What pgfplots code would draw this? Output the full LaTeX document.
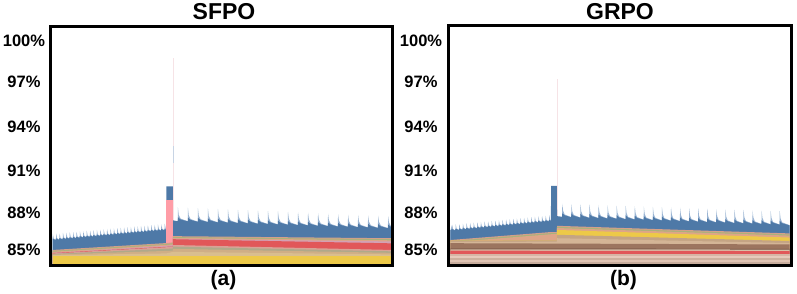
\documentclass[border=0pt]{standalone}
\usepackage{fontspec}
\setmainfont{Liberation Sans}
\usepackage{pgfplots}
\pgfplotsset{compat=1.18}
\definecolor{tblue}{HTML}{4E79A7}
\definecolor{ttip}{HTML}{9AB4D3}
\definecolor{tpink}{HTML}{FF9DA7}
\definecolor{tred}{HTML}{E15759}
\definecolor{tyel}{HTML}{EDC948}
\definecolor{tbrown}{HTML}{9C755F}
\definecolor{dbrown}{HTML}{6F5040}
\definecolor{sA}{HTML}{D4A08A}
\definecolor{sB}{HTML}{A9B27A}
\definecolor{sC}{HTML}{DDA588}
\definecolor{sD}{HTML}{D3A1B4}
\definecolor{tA}{HTML}{D8A296}
\definecolor{tB}{HTML}{AFA98A}
\definecolor{tC}{HTML}{CFAE86}
\definecolor{tD}{HTML}{D9BE8F}
\definecolor{gA}{HTML}{C4A484}
\definecolor{gB}{HTML}{D4B596}
\definecolor{gC}{HTML}{D9BFA7}
\definecolor{bA}{HTML}{D7B5A5}
\definecolor{bB}{HTML}{E6CABB}
\definecolor{bC}{HTML}{CDB09E}
\definecolor{bD}{HTML}{E0C4B4}
\definecolor{bE}{HTML}{C7AC9C}
\definecolor{faintp}{HTML}{F6E3E6}
\definecolor{faintb}{HTML}{C8D4E4}
\pgfplotsset{
  panel/.style={anchor=south west, scale only axis,
    xmin=-0.5, xmax=100, ymin=83.91, ymax=101.18,
    axis on top, axis line style={line width=3pt},
    xtick=\empty, ytick style={draw=none},
    ytick={85,87.68,90.72,93.93,97.2,100.15},
    yticklabels={85\%,88\%,91\%,94\%,97\%,100\%},
    yticklabel style={anchor=center, xshift=-27pt, font=\fontsize{16.5}{18}\selectfont\bfseries}},
  lay/.style={fill=#1, draw=none}
}
\begin{document}
\begin{tikzpicture}
\useasboundingbox (0,0) rectangle (797pt,293pt);
% ---------------- SFPO ----------------
\begin{axis}[panel, at={(51pt,28pt)}, width=341pt, height=238.3pt]
\addplot[lay=faintp] coordinates {(35.4,83) (35.4,98.9) (35.6,98.9) (35.6,83)};
\addplot[lay=faintb] coordinates {(35.4,91.3) (35.4,92.5) (35.6,92.5) (35.6,91.3)};
% tips
\addplot[lay=ttip] coordinates {(0,83) (0,85.72)
(0.03,86.17) (0.30,85.84) (0.95,85.72) (1.03,86.19) (1.30,85.86) (1.95,85.74)
(2.03,86.21) (2.30,85.88) (2.95,85.76) (3.03,86.24) (3.30,85.91) (3.95,85.79)
(4.03,86.26) (4.30,85.93) (4.95,85.81) (5.03,86.28) (5.30,85.95) (5.95,85.83)
(6.03,86.30) (6.30,85.97) (6.95,85.85) (7.03,86.32) (7.30,85.99) (7.95,85.87)
(8.03,86.35) (8.30,86.02) (8.95,85.90) (9.03,86.37) (9.30,86.04) (9.95,85.92)
(10.03,86.39) (10.30,86.06) (10.95,85.94) (11.03,86.41) (11.30,86.08) (11.95,85.96)
(12.03,86.43) (12.30,86.10) (12.95,85.98) (13.03,86.46) (13.30,86.13) (13.95,86.01)
(14.03,86.48) (14.30,86.15) (14.95,86.03) (15.03,86.50) (15.30,86.17) (15.95,86.05)
(16.03,86.52) (16.30,86.19) (16.95,86.07) (17.03,86.54) (17.30,86.21) (17.95,86.09)
(18.03,86.57) (18.30,86.24) (18.95,86.12) (19.03,86.59) (19.30,86.26) (19.95,86.14)
(20.03,86.61) (20.30,86.28) (20.95,86.16) (21.03,86.63) (21.30,86.30) (21.95,86.18)
(22.03,86.65) (22.30,86.32) (22.95,86.20) (23.03,86.68) (23.30,86.35) (23.95,86.23)
(24.03,86.70) (24.30,86.37) (24.95,86.25) (25.03,86.72) (25.30,86.39) (25.95,86.27)
(26.03,86.74) (26.30,86.41) (26.95,86.29) (27.03,86.76) (27.30,86.43) (27.95,86.31)
(28.03,86.79) (28.30,86.46) (28.95,86.34) (29.03,86.81) (29.30,86.48) (29.95,86.36)
(30.03,86.83) (30.30,86.50) (30.95,86.38) (31.03,86.85) (31.30,86.52) (31.95,86.40)
(32.03,86.87) (32.30,86.54) (32.95,86.42) (33.03,86.90) (33.30,86.57) (33.50,86.45)
(35.40,87.09)
(36.85,87.09) (36.90,88.10) (37.15,87.54) (37.70,87.27) (39.75,87.09)
(39.80,87.06) (39.85,88.07) (40.10,87.51) (40.65,87.24) (42.70,87.06)
(42.75,87.04) (42.80,88.04) (43.05,87.49) (43.60,87.22) (45.65,87.04)
(45.70,87.01) (45.75,88.01) (46.00,87.46) (46.55,87.19) (48.60,87.01)
(48.65,86.99) (48.70,87.98) (48.95,87.44) (49.50,87.17) (51.55,86.99)
(51.60,86.96) (51.65,87.95) (51.90,87.41) (52.45,87.14) (54.50,86.96)
(54.55,86.94) (54.60,87.91) (54.85,87.39) (55.40,87.12) (57.45,86.94)
(57.50,86.91) (57.55,87.88) (57.80,87.36) (58.35,87.09) (60.40,86.91)
(60.45,86.89) (60.50,87.85) (60.75,87.34) (61.30,87.07) (63.35,86.89)
(63.40,86.86) (63.45,87.82) (63.70,87.31) (64.25,87.04) (66.30,86.86)
(66.35,86.84) (66.40,87.79) (66.65,87.29) (67.20,87.02) (69.25,86.84)
(69.30,86.81) (69.35,87.76) (69.60,87.26) (70.15,86.99) (72.20,86.81)
(72.25,86.79) (72.30,87.73) (72.55,87.24) (73.10,86.97) (75.15,86.79)
(75.20,86.76) (75.25,87.70) (75.50,87.21) (76.05,86.94) (78.10,86.76)
(78.15,86.74) (78.20,87.67) (78.45,87.19) (79.00,86.92) (81.05,86.74)
(81.10,86.71) (81.15,87.64) (81.40,87.16) (81.95,86.89) (84.00,86.71)
(84.05,86.69) (84.10,87.60) (84.35,87.14) (84.90,86.87) (86.95,86.69)
(87.00,86.66) (87.05,87.57) (87.30,87.11) (87.85,86.84) (89.90,86.66)
(89.95,86.64) (90.00,87.54) (90.25,87.09) (90.80,86.82) (92.85,86.64)
(92.90,86.61) (92.95,87.51) (93.20,87.06) (93.75,86.79) (95.80,86.61)
(95.85,86.59) (95.90,87.48) (96.15,87.04) (96.70,86.77) (98.75,86.59)
(98.80,86.56) (98.85,87.45) (99.10,87.01) (99.65,86.74) (100,86.60) (100,83)};
% body
\addplot[lay=tblue] coordinates {(0,83) (0,85.82)
(0.85,85.72) (1,85.84) (1.85,85.74) (2,85.86) (2.85,85.76) (3,85.89) (3.85,85.79)
(4,85.91) (4.85,85.81) (5,85.93) (5.85,85.83) (6,85.95) (6.85,85.85) (7,85.97) (7.85,85.87)
(8,86.00) (8.85,85.90) (9,86.02) (9.85,85.92) (10,86.04) (10.85,85.94) (11,86.06) (11.85,85.96)
(12,86.08) (12.85,85.98) (13,86.11) (13.85,86.01) (14,86.13) (14.85,86.03) (15,86.15) (15.85,86.05)
(16,86.17) (16.85,86.07) (17,86.19) (17.85,86.09) (18,86.22) (18.85,86.12) (19,86.24) (19.85,86.14)
(20,86.26) (20.85,86.16) (21,86.28) (21.85,86.18) (22,86.30) (22.85,86.20) (23,86.33) (23.85,86.23)
(24,86.35) (24.85,86.25) (25,86.37) (25.85,86.27) (26,86.39) (26.85,86.29) (27,86.41) (27.85,86.31)
(28,86.44) (28.85,86.34) (29,86.46) (29.85,86.36) (30,86.48) (30.85,86.38) (31,86.50) (31.85,86.40)
(32,86.52) (32.85,86.42) (33,86.55) (33.45,86.45)
(33.5,89.60) (35.4,89.60) (35.45,87.15) (36.85,87.08)
(36.90,87.37) (37.70,87.21) (39.80,87.07) (39.85,87.34) (40.65,87.18) (42.75,87.04)
(42.80,87.32) (43.60,87.16) (45.70,87.02) (45.75,87.29) (46.55,87.13) (48.65,86.99)
(48.70,87.27) (49.50,87.11) (51.60,86.97) (51.65,87.24) (52.45,87.08) (54.55,86.94)
(54.60,87.22) (55.40,87.06) (57.50,86.92) (57.55,87.19) (58.35,87.03) (60.45,86.89)
(60.50,87.17) (61.30,87.01) (63.40,86.87) (63.45,87.14) (64.25,86.98) (66.35,86.84)
(66.40,87.12) (67.20,86.96) (69.30,86.82) (69.35,87.09) (70.15,86.93) (72.25,86.79)
(72.30,87.07) (73.10,86.91) (75.20,86.77) (75.25,87.04) (76.05,86.88) (78.15,86.74)
(78.20,87.02) (79.00,86.86) (81.10,86.72) (81.15,86.99) (81.95,86.83) (84.05,86.69)
(84.10,86.97) (84.90,86.81) (87.00,86.67) (87.05,86.94) (87.85,86.78) (89.95,86.64)
(90.00,86.92) (90.80,86.76) (92.90,86.62) (92.95,86.89) (93.75,86.73) (95.85,86.59)
(95.90,86.87) (96.70,86.71) (98.80,86.57) (98.85,86.84) (99.65,86.68) (100,86.62) (100,83)};
\addplot[lay=tpink] coordinates {(33.5,83) (33.5,88.65) (35.4,88.65) (35.4,83)};
% stripes
\addplot[lay=sA] coordinates {(0,83) (0,85.00) (33.5,85.50) (35.4,85.55) (35.45,86.00) (100,85.85) (100,83)};
\addplot[lay=sB] coordinates {(0,83) (0,84.93) (33.5,85.43) (35.4,85.48) (35.45,85.93) (100,85.78) (100,83)};
\addplot[lay=sC] coordinates {(0,83) (0,84.87) (33.5,85.37) (35.4,85.42) (35.45,85.87) (100,85.70) (100,83)};
\addplot[lay=sD] coordinates {(0,83) (0,84.80) (33.5,85.30) (35.4,85.35) (35.45,85.80) (100,85.62) (100,83)};
\addplot[lay=tred] coordinates {(0,83) (0,84.78) (33.5,85.23) (35.4,85.25) (35.45,85.78) (100,85.48) (100,83)};
\addplot[lay=tA] coordinates {(0,83) (0,84.75) (33.5,85.20) (35.4,85.22) (35.45,85.36) (100,85.00) (100,83)};
\addplot[lay=tB] coordinates {(0,83) (0,84.71) (33.5,85.08) (35.4,85.10) (35.45,85.24) (100,84.90) (100,83)};
\addplot[lay=tC] coordinates {(0,83) (0,84.67) (33.5,84.93) (35.4,84.95) (35.45,85.08) (100,84.79) (100,83)};
\addplot[lay=tD] coordinates {(0,83) (0,84.62) (33.5,84.75) (35.45,84.86) (100,84.68) (100,83)};
\addplot[lay=tyel] coordinates {(0,83) (0,84.57) (100,84.57) (100,83)};
\end{axis}
% ---------------- GRPO ----------------
\begin{axis}[panel, at={(448pt,28pt)}, width=343pt, height=239.3pt, xmin=-0.68, xmax=100.4, ymax=101.25]
\addplot[lay=faintp] coordinates {(31.4,83) (31.4,97.4) (31.55,97.4) (31.55,83)};
\addplot[lay=ttip] coordinates {(0,83) (0,86.40)
(0.53,86.83) (0.80,86.53) (1.50,86.41) (1.59,86.86) (1.86,86.56) (2.56,86.44)
(2.65,86.88) (2.92,86.58) (3.62,86.46) (3.71,86.91) (3.98,86.61) (4.68,86.49)
(4.77,86.93) (5.04,86.63) (5.74,86.51) (5.83,86.96) (6.10,86.66) (6.80,86.54)
(6.89,86.98) (7.16,86.68) (7.86,86.56) (7.95,87.01) (8.22,86.71) (8.92,86.59)
(9.01,87.03) (9.28,86.73) (9.98,86.61) (10.07,87.06) (10.34,86.76) (11.04,86.64)
(11.13,87.08) (11.40,86.78) (12.10,86.66) (12.19,87.11) (12.46,86.81) (13.16,86.69)
(13.25,87.13) (13.52,86.83) (14.22,86.71) (14.31,87.16) (14.58,86.86) (15.28,86.74)
(15.37,87.18) (15.64,86.88) (16.34,86.76) (16.43,87.21) (16.70,86.91) (17.40,86.79)
(17.49,87.23) (17.76,86.93) (18.46,86.81) (18.55,87.26) (18.82,86.96) (19.52,86.84)
(19.61,87.28) (19.88,86.98) (20.58,86.86) (20.67,87.31) (20.94,87.01) (21.64,86.89)
(21.73,87.33) (22.00,87.03) (22.70,86.91) (22.79,87.36) (23.06,87.06) (23.76,86.94)
(23.85,87.38) (24.12,87.08) (24.82,86.96) (24.91,87.41) (25.18,87.11) (25.88,86.99)
(25.97,87.43) (26.24,87.13) (26.94,87.01) (27.03,87.46) (27.30,87.16) (28.00,87.04)
(28.09,87.48) (28.36,87.18) (29.06,87.06) (29.15,87.51) (29.42,87.21) (29.70,87.09)
(31.40,87.40)
(32.95,87.39) (33.00,88.35) (33.25,87.84) (33.70,87.57) (35.57,87.39)
(35.62,87.36) (35.67,88.33) (35.92,87.81) (36.37,87.54) (38.24,87.36)
(38.29,87.34) (38.34,88.30) (38.59,87.79) (39.04,87.52) (40.91,87.34)
(40.96,87.32) (41.01,88.28) (41.26,87.77) (41.71,87.50) (43.58,87.32)
(43.63,87.29) (43.68,88.26) (43.93,87.74) (44.38,87.47) (46.25,87.29)
(46.30,87.27) (46.35,88.24) (46.60,87.72) (47.05,87.45) (48.92,87.27)
(48.97,87.24) (49.02,88.21) (49.27,87.69) (49.72,87.42) (51.59,87.24)
(51.64,87.22) (51.69,88.19) (51.94,87.67) (52.39,87.40) (54.26,87.22)
(54.31,87.20) (54.36,88.17) (54.61,87.65) (55.06,87.38) (56.93,87.20)
(56.98,87.17) (57.03,88.15) (57.28,87.62) (57.73,87.35) (59.60,87.17)
(59.65,87.15) (59.70,88.12) (59.95,87.60) (60.40,87.33) (62.27,87.15)
(62.32,87.13) (62.37,88.10) (62.62,87.58) (63.07,87.31) (64.94,87.13)
(64.99,87.10) (65.04,88.08) (65.29,87.55) (65.74,87.28) (67.61,87.10)
(67.66,87.08) (67.71,88.06) (67.96,87.53) (68.41,87.26) (70.28,87.08)
(70.33,87.06) (70.38,88.03) (70.63,87.51) (71.08,87.24) (72.95,87.06)
(73.00,87.03) (73.05,88.01) (73.30,87.48) (73.75,87.21) (75.62,87.03)
(75.67,87.01) (75.72,87.99) (75.97,87.46) (76.42,87.19) (78.29,87.01)
(78.34,86.99) (78.39,87.96) (78.64,87.44) (79.09,87.17) (80.96,86.99)
(81.01,86.96) (81.06,87.94) (81.31,87.41) (81.76,87.14) (83.63,86.96)
(83.68,86.94) (83.73,87.92) (83.98,87.39) (84.43,87.12) (86.30,86.94)
(86.35,86.92) (86.40,87.90) (86.65,87.37) (87.10,87.10) (88.97,86.92)
(89.02,86.89) (89.07,87.87) (89.32,87.34) (89.77,87.07) (91.64,86.89)
(91.69,86.87) (91.74,87.85) (91.99,87.32) (92.44,87.05) (94.31,86.87)
(94.36,86.85) (94.41,87.83) (94.66,87.30) (95.11,87.03) (96.98,86.85)
(97.03,86.82) (97.08,87.81) (97.33,87.27) (97.78,87.00) (100,86.80) (100,83)};
\addplot[lay=tblue] coordinates {(0,83) (0,86.42)
(0.50,86.51) (1.40,86.41) (1.56,86.54) (2.46,86.44) (2.62,86.56) (3.52,86.46) (3.68,86.59) (4.58,86.49)
(4.74,86.61) (5.64,86.51) (5.80,86.64) (6.70,86.54) (6.86,86.66) (7.76,86.56) (7.92,86.69) (8.82,86.59)
(8.98,86.71) (9.88,86.61) (10.04,86.74) (10.94,86.64) (11.10,86.76) (12.00,86.66) (12.16,86.79) (13.06,86.69)
(13.22,86.81) (14.12,86.71) (14.28,86.84) (15.18,86.74) (15.34,86.86) (16.24,86.76) (16.40,86.89) (17.30,86.79)
(17.46,86.91) (18.36,86.81) (18.52,86.94) (19.42,86.84) (19.58,86.96) (20.48,86.86) (20.64,86.99) (21.54,86.89)
(21.70,87.01) (22.60,86.91) (22.76,87.04) (23.66,86.94) (23.82,87.06) (24.72,86.96) (24.88,87.09) (25.78,86.99)
(25.94,87.11) (26.84,87.01) (27.00,87.14) (27.90,87.04) (28.06,87.16) (28.96,87.06) (29.12,87.19) (29.65,87.10)
(29.70,89.64) (31.40,89.64) (31.45,87.45) (32.95,87.40)
(33.00,87.67) (33.70,87.51) (35.62,87.37) (35.67,87.64) (36.37,87.48) (38.29,87.34)
(38.34,87.62) (39.04,87.46) (40.96,87.32) (41.01,87.60) (41.71,87.44) (43.63,87.30)
(43.68,87.57) (44.38,87.41) (46.30,87.27) (46.35,87.55) (47.05,87.39) (48.97,87.25)
(49.02,87.52) (49.72,87.36) (51.64,87.22) (51.69,87.50) (52.39,87.34) (54.31,87.20)
(54.36,87.48) (55.06,87.32) (56.98,87.18) (57.03,87.45) (57.73,87.29) (59.65,87.15)
(59.70,87.43) (60.40,87.27) (62.32,87.13) (62.37,87.41) (63.07,87.25) (64.99,87.11)
(65.04,87.38) (65.74,87.22) (67.66,87.08) (67.71,87.36) (68.41,87.20) (70.33,87.06)
(70.38,87.34) (71.08,87.18) (73.00,87.04) (73.05,87.31) (73.75,87.15) (75.67,87.01)
(75.72,87.29) (76.42,87.13) (78.34,86.99) (78.39,87.27) (79.09,87.11) (81.01,86.97)
(81.06,87.24) (81.76,87.08) (83.68,86.94) (83.73,87.22) (84.43,87.06) (86.35,86.92)
(86.40,87.20) (87.10,87.04) (89.02,86.90) (89.07,87.17) (89.77,87.01) (91.69,86.87)
(91.74,87.15) (92.44,86.99) (94.36,86.85) (94.41,87.13) (95.11,86.97) (97.03,86.83)
(97.08,87.10) (97.78,86.94) (100,86.78) (100,83)};
% stripes
\addplot[lay=sA] coordinates {(0,83) (0,85.72) (29.7,86.30) (31.4,86.30) (31.45,86.75) (100,86.20) (100,83)};
\addplot[lay=sB] coordinates {(0,83) (0,85.64) (29.7,86.22) (31.4,86.22) (31.45,86.67) (100,86.12) (100,83)};
\addplot[lay=sC] coordinates {(0,83) (0,85.56) (29.7,86.14) (31.4,86.14) (31.45,86.59) (100,86.04) (100,83)};
\addplot[lay=tyel] coordinates {(0,83) (0,85.67) (29.7,85.70) (31.4,85.70) (31.45,86.45) (100,85.90) (100,83)};
\addplot[lay=gA] coordinates {(0,83) (0,85.67) (29.7,85.70) (31.4,85.70) (31.45,86.10) (100,85.65) (100,83)};
\addplot[lay=gB] coordinates {(0,83) (0,85.58) (29.7,85.60) (31.4,85.60) (31.45,85.85) (100,85.50) (100,83)};
\addplot[lay=tbrown] coordinates {(0,83) (0,85.49) (100,85.40) (100,83)};
\addplot[lay=dbrown] coordinates {(0,83) (0,85.10) (100,85.08) (100,83)};
\addplot[lay=gC] coordinates {(0,83) (0,85.05) (100,85.03) (100,83)};
\addplot[lay=tred] coordinates {(0,83) (0,84.95) (100,84.92) (100,83)};
\addplot[lay=bA] coordinates {(0,83) (0,84.72) (100,84.72) (100,83)};
\addplot[lay=bB] coordinates {(0,83) (0,84.58) (100,84.58) (100,83)};
\addplot[lay=bC] coordinates {(0,83) (0,84.44) (100,84.44) (100,83)};
\addplot[lay=bD] coordinates {(0,83) (0,84.28) (100,84.28) (100,83)};
\addplot[lay=bE] coordinates {(0,83) (0,84.12) (100,84.12) (100,83)};
\end{axis}
\node[font=\fontsize{23}{25}\selectfont\bfseries] at (224pt,281pt) {SFPO};
\node[font=\fontsize{23}{25}\selectfont\bfseries] at (620pt,281pt) {GRPO};
\node[font=\fontsize{21}{23}\selectfont\bfseries] at (223.5pt,13pt) {(a)};
\node[font=\fontsize{21}{23}\selectfont\bfseries] at (623.5pt,13pt) {(b)};
\end{tikzpicture}
\end{document}
